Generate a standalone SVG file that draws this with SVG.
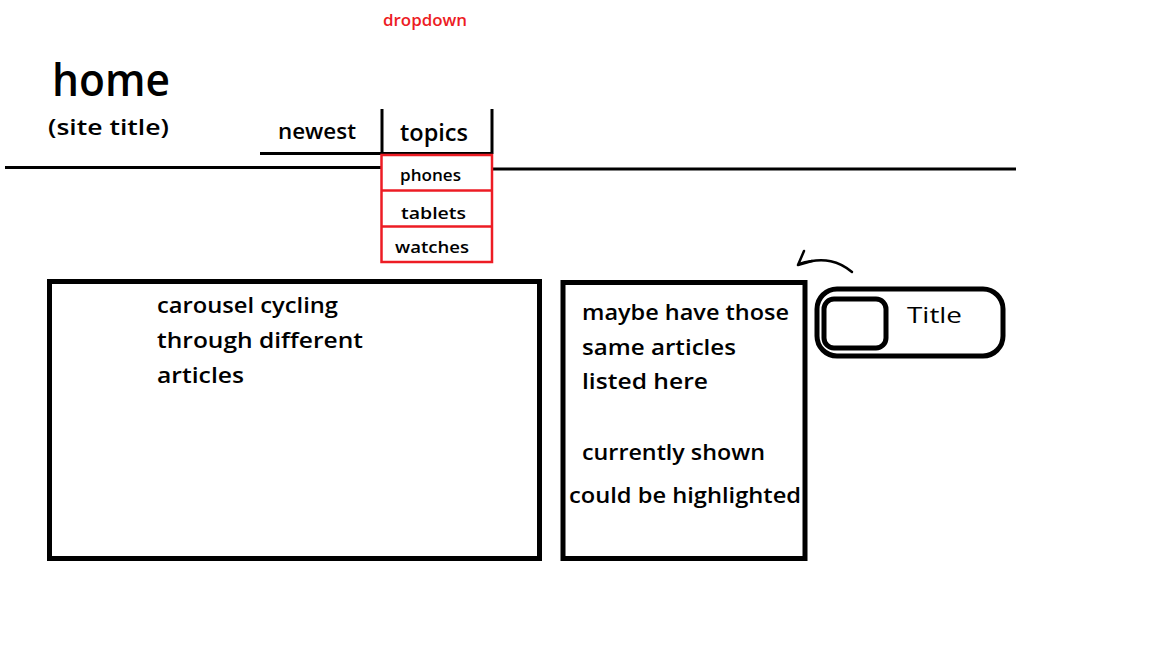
<svg xmlns="http://www.w3.org/2000/svg" width="1152" height="648" viewBox="0 0 1152 648">
<style>
.t{font-family:"Open Sans","Liberation Sans",sans-serif;font-weight:600;fill:#000}
.blk{stroke:#000;stroke-width:3;fill:none}
.red{stroke:#ed1c24;stroke-width:2.5;fill:none}
.box{stroke:#000;stroke-width:5;fill:none}
</style>
<rect width="1152" height="648" fill="#fff"/>
<g id="dropdown-label"><text class="t" x="425" y="26" font-size="16" fill="#ed1c24" style="fill:#ed1c24" text-anchor="middle" textLength="84" lengthAdjust="spacingAndGlyphs">dropdown</text></g>
<g id="home"><text class="t" x="52" y="96" font-size="46" textLength="118" lengthAdjust="spacingAndGlyphs">home</text>
<text class="t" x="48" y="135" font-size="21" textLength="121" lengthAdjust="spacingAndGlyphs">(site title)</text></g>
<g id="header-line"><line class="blk" x1="5" y1="167.5" x2="382" y2="167.5"/><line class="blk" x1="492" y1="169" x2="1016" y2="169"/></g>
<g id="newest"><text class="t" x="278" y="139" font-size="21" textLength="78" lengthAdjust="spacingAndGlyphs">newest</text>
<line class="blk" x1="260" y1="153.5" x2="382" y2="153.5"/></g>
<g id="topics"><line class="blk" x1="382" y1="109" x2="382" y2="154"/><line class="blk" x1="492" y1="109" x2="492" y2="154"/>
<line class="blk" x1="382" y1="153.5" x2="492" y2="153.5"/>
<text class="t" x="400" y="141" font-size="23" textLength="68" lengthAdjust="spacingAndGlyphs">topics</text></g>
<g id="topics-menu"><rect class="red" x="381.5" y="155" width="110.5" height="107"/>
<line class="red" x1="381.5" y1="190.5" x2="492" y2="190.5"/><line class="red" x1="381.5" y1="226.5" x2="492" y2="226.5"/>
<text class="t" x="400" y="181" font-size="17" textLength="61" lengthAdjust="spacingAndGlyphs">phones</text>
<text class="t" x="401" y="219" font-size="17" textLength="65" lengthAdjust="spacingAndGlyphs">tablets</text>
<text class="t" x="395" y="253" font-size="17" textLength="74" lengthAdjust="spacingAndGlyphs">watches</text></g>
<g id="carousel"><rect class="box" x="49.5" y="281.5" width="490" height="277"/>
<text class="t" x="157" y="313" font-size="21" textLength="181" lengthAdjust="spacingAndGlyphs">carousel cycling</text>
<text class="t" x="157" y="348" font-size="21" textLength="206" lengthAdjust="spacingAndGlyphs">through different</text>
<text class="t" x="157" y="383" font-size="21" textLength="87" lengthAdjust="spacingAndGlyphs">articles</text></g>
<g id="article-list"><rect class="box" x="563" y="282.5" width="242" height="276"/>
<text class="t" x="582" y="320" font-size="21" textLength="207" lengthAdjust="spacingAndGlyphs">maybe have those</text>
<text class="t" x="582" y="355" font-size="21" textLength="154" lengthAdjust="spacingAndGlyphs">same articles</text>
<text class="t" x="582" y="389" font-size="21" textLength="126" lengthAdjust="spacingAndGlyphs">listed here</text>
<text class="t" x="582" y="460" font-size="21" textLength="183" lengthAdjust="spacingAndGlyphs">currently shown</text>
<text class="t" x="569" y="503" font-size="21" textLength="232" lengthAdjust="spacingAndGlyphs">could be highlighted</text></g>
<g id="list-item"><rect class="box" x="817" y="289" width="186" height="67" rx="20"/>
<rect class="box" x="824" y="299" width="62" height="49" rx="10"/>
<text class="t" x="907" y="323" font-size="22" font-weight="400" style="font-weight:400" textLength="55" lengthAdjust="spacingAndGlyphs">Title</text></g>
<g id="connectors"><path d="M852,272 C840,262 825,256 799,264" stroke="#000" stroke-width="2.5" fill="none" stroke-linecap="round"/>
<path d="M804,251 L798,265 L812,261" stroke="#000" stroke-width="2.5" fill="none" stroke-linecap="round" stroke-linejoin="round"/></g>
</svg>
